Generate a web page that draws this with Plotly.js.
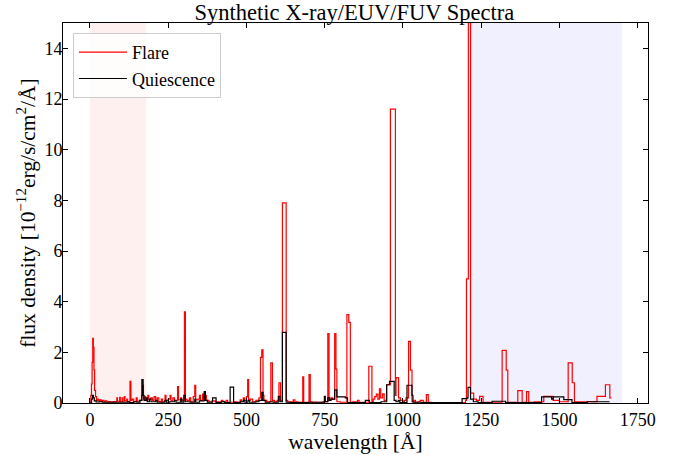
<!DOCTYPE html>
<html>
<head>
<meta charset="utf-8">
<script src="https://cdn.plot.ly/plotly-3.0.1.min.js"></script>
<style>
  html, body { margin: 0; padding: 0; background: #fff; }
  #chart { width: 675px; height: 455px; }
</style>
</head>
<body>
<div id="chart"></div>
<script>
// step spectra: left bin edge (Angstrom) and flux density (1e-12 erg/s/cm2/A)
var flareWave = [1, 3, 5, 7, 9, 11, 13, 15, 18, 21, 25, 28, 32, 36, 40, 45, 50, 55, 60, 65, 70, 75, 80, 86, 88, 95, 97,
  103, 105, 110, 112, 118, 120, 128, 131, 135, 140, 148, 151, 158, 165, 168, 171, 175, 178, 185, 188, 195, 200,
  205, 210, 215, 220, 228, 232, 240, 243, 250, 256, 259, 265, 270, 280, 283, 290, 293, 302, 305, 310, 318, 322,
  330, 335, 338, 345, 350, 353, 360, 363, 368, 372, 380, 390, 400, 410, 420, 425, 435, 440, 460, 470, 480, 484,
  490, 494, 500, 504, 507, 512, 520, 530, 540, 545, 549, 553, 556, 565, 578, 583, 590, 598, 604, 609, 615, 627,
  632, 640, 650, 655, 665, 680, 683, 700, 704, 710, 730, 745, 760, 764, 770, 775, 782, 786, 789, 800, 821, 827,
  832, 840, 855, 860, 891, 901, 905, 910, 915, 920, 925, 929, 935, 940, 948, 960, 976, 978, 986, 992, 1000, 1005,
  1010, 1018, 1024, 1029, 1035, 1040, 1048, 1055, 1065, 1075, 1081, 1090, 1200, 1203, 1209, 1216, 1226, 1235,
  1245, 1256, 1317, 1330, 1335, 1367, 1381, 1395, 1402, 1420, 1440, 1450, 1480, 1500, 1528, 1541, 1548, 1600,
  1620, 1647, 1661, 1666];
var flareFlux = [0.05, 0.3, 0.75, 1.6, 2.55, 2.2, 1.3, 0.5, 0.25, 0.1, 0.15, 0.08, 0.12, 0.06, 0.1, 0.05, 0.08, 0.04,
  0.06, 0.05, 0.04, 0.06, 0.05, 0.2, 0.07, 0.22, 0.06, 0.2, 0.07, 0.25, 0.08, 0.15, 0.05, 0.85, 0.1, 0.15, 0.05,
  0.2, 0.07, 0.1, 0.3, 0.7, 0.15, 0.25, 0.1, 0.3, 0.15, 0.2, 0.1, 0.25, 0.08, 0.2, 0.06, 0.15, 0.05, 0.3, 0.1,
  0.15, 0.3, 0.08, 0.2, 0.1, 0.65, 0.12, 0.2, 0.1, 3.6, 0.15, 0.1, 0.2, 0.05, 0.25, 0.7, 0.12, 0.15, 0.3, 0.1,
  0.35, 0.15, 0.3, 0.1, 0.05, 0.08, 0.05, 0.05, 0.1, 0.05, 0.1, 0.03, 0.05, 0.03, 0.12, 0.05, 0.2, 0.1, 0.25,
  0.92, 0.1, 0.15, 0.05, 0.1, 0.2, 1.8, 2.1, 0.3, 0.1, 0.05, 1.58, 0.1, 0.05, 0.1, 0.8, 0.1, 7.9, 0.1, 0.05,
  0.05, 0.12, 0.05, 0.03, 1.03, 0.03, 1.12, 0.05, 0.03, 0.03, 0.05, 2.74, 0.1, 0.2, 0.15, 2.74, 1.34, 0.05, 0.03,
  3.49, 3.18, 0.03, 0.05, 0.1, 0.03, 1.45, 0.05, 0.15, 0.25, 0.35, 0.15, 0.56, 0.2, 0.36, 0.1, 0.72, 11.6, 0.3,
  1.0, 0.2, 0.1, 0.05, 0.1, 0.2, 2.43, 1.3, 0.05, 0.1, 0.03, 0.05, 0.1, 0.03, 0.33, 0.03, 0.02, 0.1, 4.9, 15.5,
  0.39, 0.15, 0.1, 0.26, 0.03, 2.08, 1.3, 0.03, 0.49, 0.03, 0.45, 0.03, 0.05, 0.05, 0.26, 0.1, 0.05, 1.58, 0.8,
  0.05, 0.05, 0.26, 0.72, 0.2, 0.2];

var quietWave = [1, 5, 8, 11, 14, 20, 30, 40, 60, 80, 100, 120, 125, 140, 150, 160, 166, 170, 173, 180, 183, 190,
  195, 210, 215, 240, 245, 255, 270, 275, 290, 294, 300, 305, 320, 335, 338, 350, 365, 369, 375, 392, 403, 420,
  430, 448, 459, 480, 490, 495, 505, 510, 530, 540, 549, 553, 560, 575, 585, 602, 607, 615, 627, 640, 700, 749,
  752, 760, 765, 770, 782, 789, 816, 823, 880, 893, 930, 948, 957, 972, 978, 985, 990, 1013, 1029, 1032, 1060,
  1189, 1205, 1208, 1216, 1225, 1240, 1285, 1328, 1400, 1443, 1475, 1480, 1514, 1540, 1589, 1647, 1660];
var quietFlux = [0.02, 0.15, 0.3, 0.2, 0.08, 0.04, 0.05, 0.03, 0.03, 0.03, 0.03, 0.05, 0.02, 0.05, 0.03, 0.1, 0.92,
  0.3, 0.1, 0.2, 0.05, 0.15, 0.05, 0.1, 0.03, 0.1, 0.03, 0.05, 0.1, 0.03, 0.15, 0.03, 0.3, 0.05, 0.03, 0.15,
  0.03, 0.08, 0.45, 0.1, 0.03, 0.2, 0.02, 0.05, 0.02, 0.63, 0.02, 0.05, 0.1, 0.03, 0.1, 0.03, 0.05, 0.1, 0.42,
  0.1, 0.03, 0.05, 0.03, 0.26, 0.05, 2.79, 0.03, 0.02, 0.03, 0.26, 0.05, 0.2, 0.1, 0.15, 0.52, 0.24, 0.2, 0.02,
  0.1, 0.02, 0.05, 0.72, 0.85, 0.1, 0.05, 0.1, 0.02, 0.7, 0.3, 0.03, 0.02, 0.17, 0.2, 0.62, 0.15, 0.05, 0.02,
  0.07, 0.02, 0.02, 0.24, 0.15, 0.24, 0.13, 0.02, 0.05, 0.05, 0.05];

// shaded bands: X-ray and FUV
var bandStart = [0, 1212];
var bandEnd = [180, 1700];
var bandColor = ['rgba(255,0,0,0.06)', 'rgba(0,0,255,0.06)'];

var font = 'Liberation Serif, DejaVu Serif, serif';

var shapes = [];
for (var i = 0; i < bandStart.length; i++) {
    shapes.push({
        type: 'rect', xref: 'x', yref: 'paper',
        x0: bandStart[i], x1: bandEnd[i], y0: 0, y1: 1,
        fillcolor: bandColor[i], line: {width: 0}, layer: 'below'
    });
}

var flare = {
    x: flareWave,
    y: flareFlux,
    type: 'scatter',
    mode: 'lines',
    name: 'Flare',
    line: {color: 'rgb(255,0,0)', width: 1.2, shape: 'hv'}
};

var quiet = {
    x: quietWave,
    y: quietFlux,
    type: 'scatter',
    mode: 'lines',
    name: 'Quiescence',
    line: {color: 'black', width: 1.2, shape: 'hv'}
};

var layout = {
    width: 675,
    height: 455,
    margin: {l: 63, r: 27, t: 23, b: 52},
    paper_bgcolor: 'white',
    plot_bgcolor: 'white',
    font: {family: font, color: 'black', size: 18},
    title: {
        text: 'Synthetic X-ray/EUV/FUV Spectra',
        font: {family: font, size: 22.5},
        x: 0.525, xanchor: 'center', y: 0.974, yanchor: 'middle'
    },
    xaxis: {
        range: [-86, 1783],
        tickvals: [0, 250, 500, 750, 1000, 1250, 1500, 1750],
        ticks: 'inside', ticklen: 5, tickwidth: 1, tickcolor: 'black',
        showline: true, linecolor: 'black', linewidth: 1, mirror: 'ticks',
        showgrid: false, zeroline: false,
        tickfont: {family: font, size: 18},
        title: {text: 'wavelength [Å]', font: {family: font, size: 21.5}, standoff: 4}
    },
    yaxis: {
        range: [0, 15],
        tickvals: [0, 2, 4, 6, 8, 10, 12, 14],
        ticks: 'inside', ticklen: 5, tickwidth: 1, tickcolor: 'black',
        showline: true, linecolor: 'black', linewidth: 1, mirror: 'ticks',
        showgrid: false, zeroline: false,
        ticklabelstandoff: -4,
        tickfont: {family: font, size: 18},
        title: {text: 'flux density [10<sup>−12</sup>erg/s/cm<sup>2</sup>/Å]', font: {family: font, size: 21.5}, standoff: 2}
    },
    legend: {
        x: 0.017, y: 0.974, xanchor: 'left', yanchor: 'top',
        bgcolor: 'rgba(255,255,255,0.8)', bordercolor: '#cccccc', borderwidth: 1,
        itemwidth: 48,
        font: {family: font, size: 18}
    },
    shapes: shapes,
    showlegend: true
};

Plotly.newPlot('chart', [flare, quiet], layout, {displayModeBar: false, staticPlot: true});
</script>
</body>
</html>
